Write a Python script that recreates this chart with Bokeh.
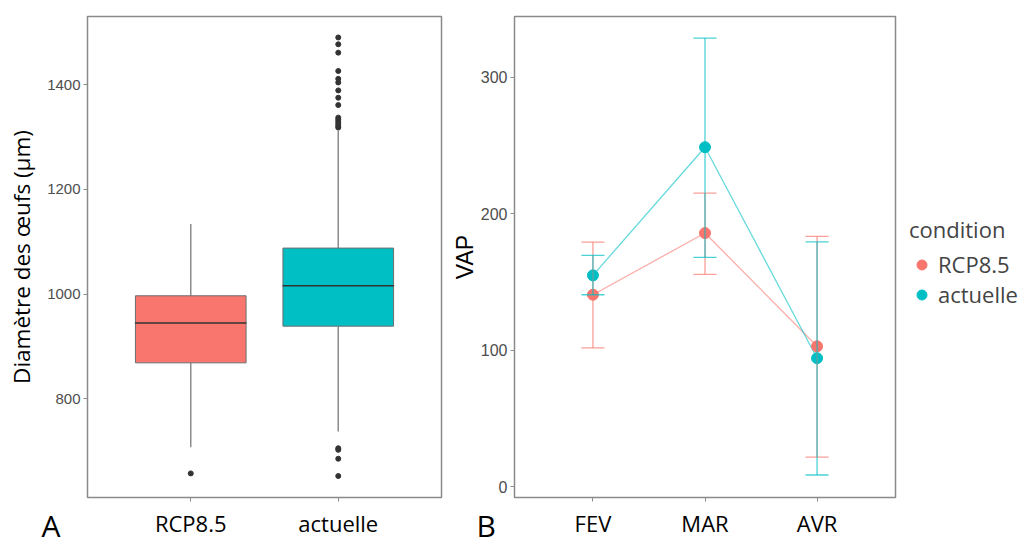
from bokeh.plotting import figure
from bokeh.layouts import column
from bokeh.models import (FactorRange, Range1d, FixedTicker, ColumnDataSource, Whisker, TeeHead,
                          Legend, LegendItem, Label, GridBox, Spacer)
from bokeh.embed import file_html
from bokeh.resources import INLINE

# ---------------- data ----------------
# Panel A : boxplot of egg diameter
box_cats = ["RCP8.5", "actuelle"]
box_q1 = [869, 939]
box_med = [945, 1016]
box_q3 = [997, 1088]
box_wlo = [708, 738]
box_whi = [1134, 1312]
out_rcp = [658]
out_act = [706, 703, 686, 653, 1318, 1321, 1325, 1329, 1333, 1337,
           1361, 1375, 1389, 1404, 1411, 1426, 1461, 1477, 1490]
box_yticks = [800, 1000, 1200, 1400]

# Panel B : VAP mean +/- error per month
months = ["FEV", "MAR", "AVR"]
rcp_mean = [140.7, 185.9, 102.9]
rcp_lo = [101.7, 155.6, 21.7]
rcp_hi = [179.3, 215.1, 183.4]
act_mean = [154.9, 248.8, 94.2]
act_lo = [140.7, 168.1, 8.6]
act_hi = [169.5, 328.8, 179.5]
vap_yticks = [0, 100, 200, 300]

C_RCP = "#F8766D"
C_ACT = "#00BFC4"
FRAME = "#8a8a8a"
TICKC = "#4d4d4d"


def style_axes(p):
    for a in (p.xaxis[0], p.yaxis[0]):
        a.axis_line_color = None
        a.major_tick_line_color = "#8c8c8c"
        a.major_tick_in = 0
        a.major_tick_out = 4
        a.minor_tick_line_color = None
    xa = p.xaxis[0]
    xa.major_label_text_font = "Open Sans"
    xa.major_label_text_font_size = "22px"
    xa.major_label_text_color = "#000000"
    xa.major_label_standoff = 6


# ---------------- panel A ----------------
p1 = figure(width=448, height=540, output_backend="svg", toolbar_location=None,
            x_range=FactorRange(*box_cats, range_padding=0.2, range_padding_units="absolute"),
            y_range=Range1d(612, 1530),
            min_border_left=87, min_border_right=7, min_border_top=16, min_border_bottom=41)
p1.xgrid.visible = False
p1.ygrid.visible = False
p1.outline_line_color = FRAME
p1.outline_line_width = 1.5

bsrc = ColumnDataSource(dict(x=box_cats, q1=box_q1, med=box_med, q3=box_q3,
                             wlo=box_wlo, whi=box_whi, color=[C_RCP, C_ACT]))
p1.segment(x0="x", x1="x", y0="q3", y1="whi", source=bsrc, line_color="#8c8c8c", line_width=1.5)
p1.segment(x0="x", x1="x", y0="wlo", y1="q1", source=bsrc, line_color="#8c8c8c", line_width=1.5)
p1.vbar(x="x", width=0.75, bottom="q1", top="q3", source=bsrc, fill_color="color",
        line_color="#6e6e6e", line_width=1)
p1.rect(x="x", y="med", width=0.75, height=0.01, source=bsrc, line_color="#333333",
        fill_color=None, line_width=1.5)
p1.scatter(x=["RCP8.5"] * len(out_rcp) + ["actuelle"] * len(out_act), y=out_rcp + out_act,
           size=5, color="#333333")

ax = p1.yaxis[0]
ax.ticker = FixedTicker(ticks=box_yticks)
ax.axis_label = "Diamètre des œufs (µm)"
ax.axis_label_text_font = "Open Sans"
ax.axis_label_text_font_style = "normal"
ax.axis_label_text_font_size = "22.5px"
ax.axis_label_text_color = "#000000"
ax.axis_label_standoff = 7
ax.major_label_text_font = "Liberation Sans"
ax.major_label_text_font_size = "15px"
ax.major_label_text_color = TICKC
ax.major_label_standoff = 3
style_axes(p1)

# ---------------- panel B ----------------
p2 = figure(width=449, height=540, output_backend="svg", toolbar_location=None,
            x_range=FactorRange(*months, range_padding=0.2, range_padding_units="absolute"),
            y_range=Range1d(-7.9, 344.6),
            min_border_left=60, min_border_right=2, min_border_top=16, min_border_bottom=41)
p2.xgrid.visible = False
p2.ygrid.visible = False
p2.outline_line_color = FRAME
p2.outline_line_width = 1.5

rsrc = ColumnDataSource(dict(x=months, m=rcp_mean, lo=rcp_lo, hi=rcp_hi))
asrc = ColumnDataSource(dict(x=months, m=act_mean, lo=act_lo, hi=act_hi))

for src, col in ((rsrc, C_RCP), (asrc, C_ACT)):
    w = Whisker(base="x", lower="lo", upper="hi", source=src, dimension="height",
                line_color=col, line_alpha=0.7, line_width=1.3, level="glyph",
                upper_head=TeeHead(size=23, line_color=col, line_alpha=0.7, line_width=1.3),
                lower_head=TeeHead(size=23, line_color=col, line_alpha=0.7, line_width=1.3))
    p2.add_layout(w)

p2.line(x="x", y="m", source=rsrc, line_color=C_RCP, line_alpha=0.6, line_width=1.3)
p2.line(x="x", y="m", source=asrc, line_color=C_ACT, line_alpha=0.6, line_width=1.3)
p2.scatter(x="x", y="m", source=rsrc, size=11, color=C_RCP)
p2.scatter(x="x", y="m", source=asrc, size=11, color=C_ACT)

ay = p2.yaxis[0]
ay.ticker = FixedTicker(ticks=vap_yticks)
ay.axis_label = "VAP"
ay.axis_label_text_font = "Liberation Sans"
ay.axis_label_text_font_style = "normal"
ay.axis_label_text_font_size = "23px"
ay.axis_label_text_color = "#000000"
ay.axis_label_standoff = 0
ay.major_label_text_font = "Liberation Sans"
ay.major_label_text_font_size = "16px"
ay.major_label_text_color = TICKC
ay.major_label_standoff = 3
style_axes(p2)

# ---------------- legend column (same series as panel B) ----------------
p3 = figure(width=135, height=540, output_backend="svg", toolbar_location=None,
            x_range=p2.x_range, y_range=p2.y_range,
            x_axis_location=None, y_axis_location=None,
            min_border_left=0, min_border_right=0, min_border_top=16, min_border_bottom=41)
p3.xgrid.visible = False
p3.ygrid.visible = False
p3.outline_line_color = None
l_r = p3.scatter(x="x", y="m", source=rsrc, size=11, color=C_RCP, visible=False)
l_a = p3.scatter(x="x", y="m", source=asrc, size=11, color=C_ACT, visible=False)

leg = Legend(items=[LegendItem(label="RCP8.5", renderers=[l_r]),
                    LegendItem(label="actuelle", renderers=[l_a])],
             title="condition", location=(12, 188),
             title_text_font="Open Sans", title_text_font_size="22px", title_text_font_style="normal",
             title_standoff=5,
             label_text_font="Open Sans", label_text_font_size="22px",
             border_line_color=None, background_fill_alpha=0,
             glyph_width=25, glyph_height=25, label_height=20, spacing=0,
             margin=0, padding=2, label_standoff=4)
p3.add_layout(leg, "center")

# ---------------- transparent overlay carrying the panel letters ----------------
ov = figure(width=1032, height=540, output_backend="svg", toolbar_location=None,
            x_range=Range1d(0, 1), y_range=Range1d(0, 1),
            x_axis_location=None, y_axis_location=None,
            min_border_left=0, min_border_right=0, min_border_top=0, min_border_bottom=0)
ov.xgrid.visible = False
ov.ygrid.visible = False
ov.outline_line_color = None
ov.background_fill_alpha = 0
ov.border_fill_alpha = 0
for letter, lx in (("A", 41), ("B", 476)):
    ov.add_layout(Label(x=lx, y=15, x_units="screen", y_units="screen", text=letter,
                        text_font="Open Sans", text_font_size="30px", text_color="#000000",
                        text_baseline="alphabetic"))

# zero-size spacer row/column so the overlay does not share frame edges with the panels
layout = GridBox(children=[(Spacer(width=0, height=0), 1, 0),
                           (p1, 0, 1), (p2, 0, 2), (p3, 0, 3),
                           (column(ov), 0, 0, 2, 4)], spacing=0)
open("out.html", "w").write(file_html(layout, INLINE))
